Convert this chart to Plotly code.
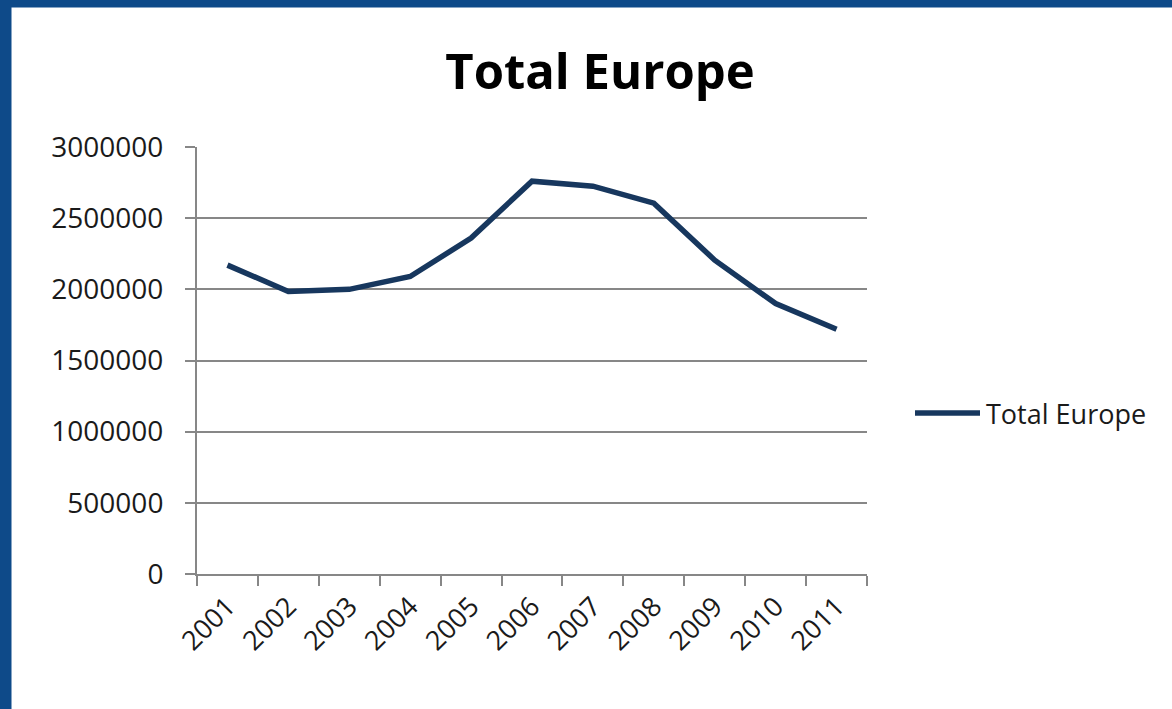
import plotly.graph_objects as go

years = ["2001", "2002", "2003", "2004", "2005", "2006", "2007", "2008", "2009", "2010", "2011"]
total_europe = [2170000, 1985000, 2000000, 2090000, 2360000, 2760000, 2725000, 2605000, 2205000, 1900000, 1720000]
y_ticks = [0, 500000, 1000000, 1500000, 2000000, 2500000, 3000000]
series_name = "Total Europe"
chart_title = "Total Europe"

W, H = 1172, 709
L, R, T, B = 197, 305, 147, 135
PW, PH = W - L - R, H - T - B

def px_x(px):
    return (px - L) / PW

def px_y(py):
    return (H - B - py) / PH

BLUE = "#0e4a89"
LINE = "#17375e"
GRID = "#878787"
FONT = "Open Sans"
TXT = "#1a1a1a"

fig = go.Figure()
fig.add_trace(go.Scatter(
    x=years, y=total_europe, mode="lines", name=series_name,
    line=dict(color=LINE, width=5.5), showlegend=False,
))

shapes = [
    # blue frame: top band and left band
    dict(type="rect", xref="paper", yref="paper", x0=px_x(-20), x1=px_x(W + 20),
         y0=px_y(7.5), y1=px_y(-20), fillcolor=BLUE, line=dict(width=0), layer="below"),
    dict(type="rect", xref="paper", yref="paper", x0=px_x(-20), x1=px_x(11.5),
         y0=px_y(H + 20), y1=px_y(-20), fillcolor=BLUE, line=dict(width=0), layer="below"),
    # legend sample line
    dict(type="line", xref="paper", yref="paper", x0=px_x(915), x1=px_x(980),
         y0=px_y(413), y1=px_y(413), line=dict(color=LINE, width=5.5)),
]

annotations = [
    dict(text=series_name, xref="paper", yref="paper", x=px_x(984), y=px_y(413),
         xanchor="left", yanchor="middle", showarrow=False,
         font=dict(family=FONT, size=27, color=TXT)),
]

fig.update_layout(
    width=W, height=H,
    margin=dict(l=L, r=R, t=T, b=B),
    paper_bgcolor="white", plot_bgcolor="white",
    title=dict(text=chart_title, x=600 / W, y=1 - 72 / H, xanchor="center", yanchor="middle",
               xref="container", yref="container",
               font=dict(family=FONT, size=49, color="black", weight="bold")),
    shapes=shapes, annotations=annotations,
    showlegend=False,
)
fig.update_xaxes(
    type="category", range=[-0.5, len(years) - 0.5], tickson="boundaries",
    ticks="outside", ticklen=10, tickwidth=2, tickcolor=GRID,
    showline=True, linecolor=GRID, linewidth=2, showgrid=False,
    tickangle=-45, ticklabelstandoff=4,
    tickfont=dict(family=FONT, size=27, color=TXT),
)
fig.update_yaxes(
    range=[0, 3000000], tickvals=y_ticks, tickformat="d",
    ticks="outside", ticklen=10, tickwidth=2, tickcolor=GRID,
    showline=True, linecolor=GRID, linewidth=2,
    showgrid=True, gridcolor=GRID, gridwidth=2, zeroline=False,
    ticklabelstandoff=16,
    tickfont=dict(family=FONT, size=28, color=TXT),
)

fig.write_html("out.html", config={"displayModeBar": False},
               post_script="document.body.style.margin='0';")
